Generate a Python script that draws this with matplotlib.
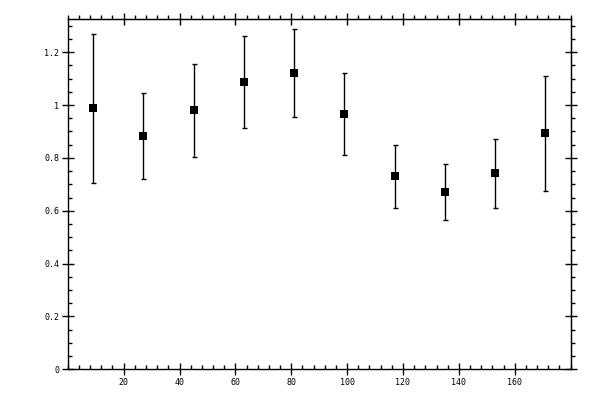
import matplotlib
matplotlib.use("Agg")
import matplotlib.pyplot as plt
from matplotlib.ticker import MultipleLocator, FixedLocator

# bin centres (degrees) and measured values
angle = [9, 27, 45, 63, 81, 99, 117, 135, 153, 171]
value = [0.988, 0.882, 0.980, 1.086, 1.120, 0.965, 0.730, 0.670, 0.742, 0.893]
err = [0.282, 0.163, 0.176, 0.174, 0.167, 0.155, 0.118, 0.106, 0.130, 0.217]

xticks = [20, 40, 60, 80, 100, 120, 140, 160]
yticks = [0, 0.2, 0.4, 0.6, 0.8, 1.0, 1.2]
ylabels = ["0", "0.2", "0.4", "0.6", "0.8", "1", "1.2"]

plt.rcParams['font.family'] = ['DejaVu Sans Mono']

fig = plt.figure(figsize=(6, 4), dpi=100)
ax = fig.add_axes([0.113, 0.077, 0.838, 0.875])

ax.errorbar(angle, value, yerr=err, fmt='none', ecolor='black',
            elinewidth=1.0, capsize=1.8, capthick=1.0)
ax.plot(angle, value, 's', color='black', ms=5.2, mew=0, zorder=3)

ax.set_xlim(0, 180)
ax.set_ylim(0, 1.325)

ax.xaxis.set_major_locator(FixedLocator(xticks))
ax.xaxis.set_minor_locator(MultipleLocator(4))
ax.set_yticks(yticks)
ax.set_yticklabels(ylabels)
ax.yaxis.set_minor_locator(MultipleLocator(0.05))

for s in ax.spines.values():
    s.set_linewidth(1.0)

ax.tick_params(which='major', direction='inout', length=8, width=1, labelsize=6, pad=2)
ax.tick_params(which='minor', direction='in', length=3, width=1)
ax.tick_params(top=False, right=False, which='both')

# top / right ticks without labels, minor ticks pointing outward
top = ax.secondary_xaxis('top')
top.xaxis.set_major_locator(FixedLocator(xticks))
top.xaxis.set_minor_locator(MultipleLocator(4))
top.tick_params(which='major', direction='inout', length=8, width=1, labeltop=False)
top.tick_params(which='minor', direction='out', length=3, width=1)

right = ax.secondary_yaxis('right')
right.set_yticks(yticks)
right.yaxis.set_minor_locator(MultipleLocator(0.05))
right.tick_params(which='major', direction='inout', length=8, width=1, labelright=False)
right.tick_params(which='minor', direction='out', length=3, width=1)

fig.savefig("out.png", dpi=100)
